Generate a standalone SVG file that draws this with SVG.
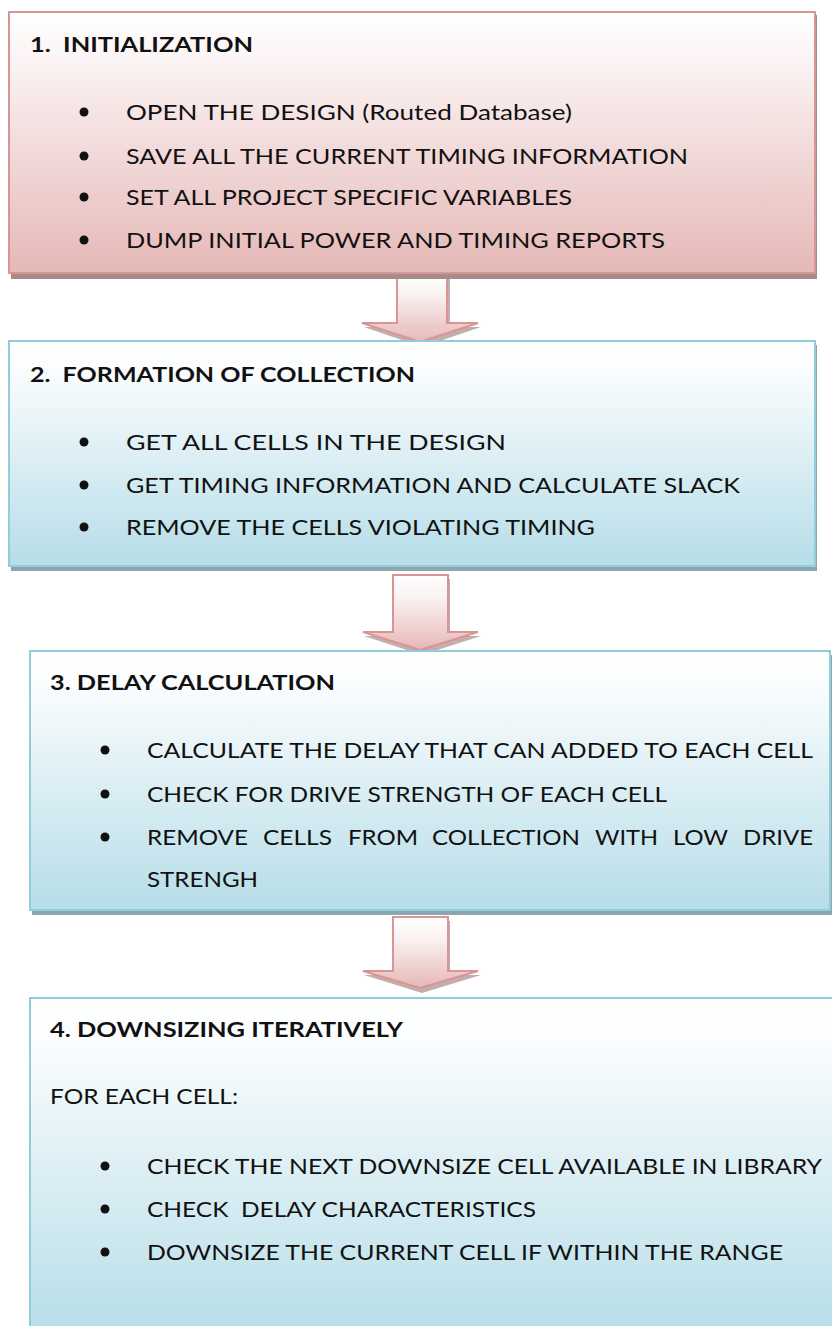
<svg xmlns="http://www.w3.org/2000/svg" width="832" height="1326" viewBox="0 0 832 1326">
  <defs>
    <linearGradient id="pinkFill" x1="0" y1="0" x2="0" y2="1">
      <stop offset="0" stop-color="#ffffff"/>
      <stop offset="0.15" stop-color="#fcf6f6"/>
      <stop offset="1" stop-color="#e5b8b7"/>
    </linearGradient>
    <linearGradient id="blueFill" x1="0" y1="0" x2="0" y2="1">
      <stop offset="0" stop-color="#ffffff"/>
      <stop offset="0.12" stop-color="#fbfdfe"/>
      <stop offset="1" stop-color="#b6dde8"/>
    </linearGradient>
    <linearGradient id="arrowFill" x1="0" y1="0" x2="0" y2="1">
      <stop offset="0" stop-color="#ffffff"/>
      <stop offset="0.3" stop-color="#fbf2f2"/>
      <stop offset="1" stop-color="#e5b8b7"/>
    </linearGradient>
  </defs>
  <style>
    .pinkBox { fill: url(#pinkFill); stroke: #d99594; stroke-width: 2; }
    .pinkShadow { fill: #a68b8b; }
    .blueBox { fill: url(#blueFill); stroke: #92cddc; stroke-width: 2; }
    .blueShadow { fill: #8ba7ad; }
    .arrow { fill: url(#arrowFill); stroke: #d99594; stroke-width: 2; stroke-linejoin: miter; }
    .arrowShadow { fill: #b59999; opacity: 0.8; }
    .title { font-family: Lato, "Liberation Sans", sans-serif; font-weight: bold; font-size: 21.5px; fill: #111; white-space: pre; }
    .item { font-family: Lato, "Liberation Sans", sans-serif; font-size: 21.5px; fill: #111; white-space: pre; }
    .dot { fill: #111; }
  </style>

  <rect width="832" height="1326" fill="#ffffff"/>

  <!-- connectors: block arrows between the stages -->
  <g id="connectors">
    <g id="arrow-1-2">
      <polygon class="arrowShadow" points="399,277 450,277 450,327 481,327 422,347 364,327 399,327"/>
      <polygon class="arrow" points="397,273 447,273 447,323 478,323 420,342 362,323 397,323"/>
    </g>
    <g id="arrow-2-3">
      <polygon class="arrowShadow" points="395,579 450,579 450,636 481,636 422,655 364,636 395,636"/>
      <polygon class="arrow" points="393,575 448,575 448,632 478,632 420,650 363,632 393,632"/>
    </g>
    <g id="arrow-3-4">
      <polygon class="arrowShadow" points="395,921 450,921 450,975 481,975 422,993 364,975 395,975"/>
      <polygon class="arrow" points="393,917 448,917 448,971 478,971 420,988 363,971 393,971"/>
    </g>
  </g>

  <!-- stage 1 -->
  <g id="node-initialization">
    <rect class="pinkShadow" x="11" y="15" width="806" height="264"/>
    <rect class="pinkBox" x="9" y="12" width="806" height="261"/>
    <text class="title" x="30" y="52" textLength="223" lengthAdjust="spacingAndGlyphs">1.  INITIALIZATION</text>
    <circle class="dot" cx="84" cy="112" r="4.5"/>
    <text class="item" x="126" y="120" textLength="446" lengthAdjust="spacingAndGlyphs">OPEN THE DESIGN (Routed Database)</text>
    <circle class="dot" cx="84" cy="156" r="4.5"/>
    <text class="item" x="126" y="164" textLength="562" lengthAdjust="spacingAndGlyphs">SAVE ALL THE CURRENT TIMING INFORMATION</text>
    <circle class="dot" cx="84" cy="197" r="4.5"/>
    <text class="item" x="126" y="205" textLength="446" lengthAdjust="spacingAndGlyphs">SET ALL PROJECT SPECIFIC VARIABLES</text>
    <circle class="dot" cx="84" cy="240" r="4.5"/>
    <text class="item" x="126" y="248" textLength="539" lengthAdjust="spacingAndGlyphs">DUMP INITIAL POWER AND TIMING REPORTS</text>
  </g>

  <!-- stage 2 -->
  <g id="node-collection">
    <rect class="blueShadow" x="11" y="345" width="806" height="226"/>
    <rect class="blueBox" x="9" y="341" width="806" height="225"/>
    <text class="title" x="30" y="382" textLength="385" lengthAdjust="spacingAndGlyphs">2.  FORMATION OF COLLECTION</text>
    <circle class="dot" cx="84" cy="442" r="4.5"/>
    <text class="item" x="126" y="450" textLength="380" lengthAdjust="spacingAndGlyphs">GET ALL CELLS IN THE DESIGN</text>
    <circle class="dot" cx="84" cy="485" r="4.5"/>
    <text class="item" x="126" y="493" textLength="614" lengthAdjust="spacingAndGlyphs">GET TIMING INFORMATION AND CALCULATE SLACK</text>
    <circle class="dot" cx="84" cy="527" r="4.5"/>
    <text class="item" x="126" y="535" textLength="469" lengthAdjust="spacingAndGlyphs">REMOVE THE CELLS VIOLATING TIMING</text>
  </g>

  <!-- stage 3 -->
  <g id="node-delay">
    <rect class="blueShadow" x="32" y="655" width="802" height="260"/>
    <rect class="blueBox" x="30" y="651" width="800" height="259"/>
    <text class="title" x="50" y="690" textLength="285" lengthAdjust="spacingAndGlyphs">3. DELAY CALCULATION</text>
    <circle class="dot" cx="105" cy="750" r="4.5"/>
    <text class="item" x="147" y="758" textLength="666" lengthAdjust="spacingAndGlyphs">CALCULATE THE DELAY THAT CAN ADDED TO EACH CELL</text>
    <circle class="dot" cx="105" cy="794" r="4.5"/>
    <text class="item" x="147" y="802" textLength="520" lengthAdjust="spacingAndGlyphs">CHECK FOR DRIVE STRENGTH OF EACH CELL</text>
    <circle class="dot" cx="105" cy="837" r="4.5"/>
    <!-- justified line: words placed one by one -->
    <text class="item" x="147" y="845" textLength="101" lengthAdjust="spacingAndGlyphs">REMOVE</text>
    <text class="item" x="263" y="845" textLength="69" lengthAdjust="spacingAndGlyphs">CELLS</text>
    <text class="item" x="348" y="845" textLength="70" lengthAdjust="spacingAndGlyphs">FROM</text>
    <text class="item" x="432" y="845" textLength="148" lengthAdjust="spacingAndGlyphs">COLLECTION</text>
    <text class="item" x="595" y="845" textLength="63" lengthAdjust="spacingAndGlyphs">WITH</text>
    <text class="item" x="673" y="845" textLength="55" lengthAdjust="spacingAndGlyphs">LOW</text>
    <text class="item" x="743" y="845" textLength="70" lengthAdjust="spacingAndGlyphs">DRIVE</text>
    <text class="item" x="147" y="887" textLength="111" lengthAdjust="spacingAndGlyphs">STRENGH</text>
  </g>

  <!-- stage 4 -->
  <g id="node-downsizing">
    <rect class="blueShadow" x="32" y="1002" width="810" height="340"/>
    <rect class="blueBox" x="30" y="998" width="810" height="340"/>
    <text class="title" x="50" y="1037" textLength="353" lengthAdjust="spacingAndGlyphs">4. DOWNSIZING ITERATIVELY</text>
    <text class="item" x="50" y="1104" textLength="188" lengthAdjust="spacingAndGlyphs">FOR EACH CELL:</text>
    <circle class="dot" cx="105" cy="1166" r="4.5"/>
    <text class="item" x="147" y="1174" textLength="675" lengthAdjust="spacingAndGlyphs">CHECK THE NEXT DOWNSIZE CELL AVAILABLE IN LIBRARY</text>
    <circle class="dot" cx="105" cy="1209" r="4.5"/>
    <text class="item" x="147" y="1217" textLength="389" lengthAdjust="spacingAndGlyphs">CHECK  DELAY CHARACTERISTICS</text>
    <circle class="dot" cx="105" cy="1252" r="4.5"/>
    <text class="item" x="147" y="1260" textLength="636" lengthAdjust="spacingAndGlyphs">DOWNSIZE THE CURRENT CELL IF WITHIN THE RANGE</text>
  </g>
</svg>
